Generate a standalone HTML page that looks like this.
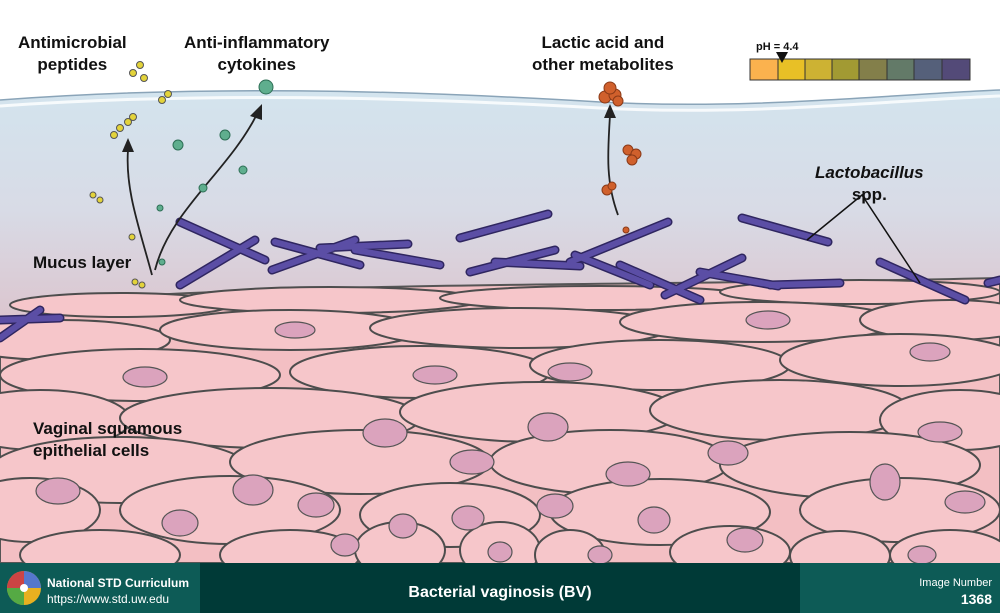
<!DOCTYPE html>
<html><head><meta charset="utf-8"><style>
body{margin:0;width:1000px;height:613px;overflow:hidden;font-family:"Liberation Sans",sans-serif;background:#fff}
.l{position:absolute;font-weight:bold;font-size:17px;color:#111;text-align:center;line-height:22px}
</style></head><body>
<svg width="1000" height="613" style="position:absolute;left:0;top:0">
<defs>
<linearGradient id="liq" x1="0" y1="0" x2="0" y2="1">
<stop offset="0" stop-color="#d3e4ee"/><stop offset="0.5" stop-color="#d8dbe6"/><stop offset="1" stop-color="#dcc3cc"/></linearGradient>
</defs>
<path d="M0,100 C200,85 400,90 600,102 C750,110 880,95 1000,90 L1000,330 L0,330Z" fill="url(#liq)"/>
<path d="M0,100 C200,85 400,90 600,102 C750,110 880,95 1000,90" fill="none" stroke="#8aa4b8" stroke-width="1.5"/>
<path d="M0,106 C200,92 400,97 600,108 C750,116 880,101 1000,96" fill="none" stroke="#fff" stroke-width="3" opacity=".8"/>
<!-- cells base -->
<path d="M0,325 C40,310 80,300 150,295 C400,282 700,285 1000,278 L1000,563 L0,563Z" fill="#f3bfc3" stroke="#555" stroke-width="2"/>
<g fill="#f6c6ca" stroke="#4d4d4d" stroke-width="2">
<ellipse cx="120" cy="305" rx="110" ry="12"/><ellipse cx="330" cy="300" rx="150" ry="13"/><ellipse cx="600" cy="298" rx="160" ry="12"/><ellipse cx="860" cy="292" rx="140" ry="12"/>
<ellipse cx="60" cy="340" rx="110" ry="20"/><ellipse cx="290" cy="330" rx="130" ry="20"/><ellipse cx="520" cy="328" rx="150" ry="20"/><ellipse cx="760" cy="322" rx="140" ry="20"/><ellipse cx="950" cy="320" rx="90" ry="20"/>
<ellipse cx="140" cy="375" rx="140" ry="26"/><ellipse cx="420" cy="372" rx="130" ry="26"/><ellipse cx="660" cy="365" rx="130" ry="25"/><ellipse cx="900" cy="360" rx="120" ry="26"/>
<ellipse cx="40" cy="420" rx="90" ry="30"/><ellipse cx="270" cy="418" rx="150" ry="30"/><ellipse cx="540" cy="412" rx="140" ry="30"/><ellipse cx="780" cy="410" rx="130" ry="30"/><ellipse cx="960" cy="420" rx="80" ry="30"/>
<ellipse cx="120" cy="470" rx="130" ry="33"/><ellipse cx="360" cy="462" rx="130" ry="32"/><ellipse cx="610" cy="462" rx="120" ry="32"/><ellipse cx="850" cy="465" rx="130" ry="33"/>
<ellipse cx="30" cy="510" rx="70" ry="32"/><ellipse cx="230" cy="510" rx="110" ry="34"/><ellipse cx="450" cy="515" rx="90" ry="32"/><ellipse cx="660" cy="512" rx="110" ry="33"/><ellipse cx="900" cy="510" rx="100" ry="32"/>
<ellipse cx="100" cy="555" rx="80" ry="25"/><ellipse cx="290" cy="555" rx="70" ry="25"/><ellipse cx="400" cy="550" rx="45" ry="28"/><ellipse cx="500" cy="550" rx="40" ry="28"/><ellipse cx="570" cy="555" rx="35" ry="25"/><ellipse cx="730" cy="552" rx="60" ry="26"/><ellipse cx="840" cy="556" rx="50" ry="25"/><ellipse cx="950" cy="555" rx="60" ry="25"/>
</g>
<g fill="#dba3bd" stroke="#555" stroke-width="1.2">
<ellipse cx="295" cy="330" rx="20" ry="8"/><ellipse cx="768" cy="320" rx="22" ry="9"/><ellipse cx="930" cy="352" rx="20" ry="9"/><ellipse cx="145" cy="377" rx="22" ry="10"/><ellipse cx="435" cy="375" rx="22" ry="9"/><ellipse cx="570" cy="372" rx="22" ry="9"/>
<ellipse cx="385" cy="433" rx="22" ry="14"/><ellipse cx="548" cy="427" rx="20" ry="14"/><ellipse cx="728" cy="453" rx="20" ry="12"/><ellipse cx="940" cy="432" rx="22" ry="10"/><ellipse cx="472" cy="462" rx="22" ry="12"/><ellipse cx="628" cy="474" rx="22" ry="12"/>
<ellipse cx="58" cy="491" rx="22" ry="13"/><ellipse cx="253" cy="490" rx="20" ry="15"/><ellipse cx="316" cy="505" rx="18" ry="12"/><ellipse cx="468" cy="518" rx="16" ry="12"/><ellipse cx="555" cy="506" rx="18" ry="12"/><ellipse cx="885" cy="482" rx="15" ry="18"/><ellipse cx="965" cy="502" rx="20" ry="11"/>
<ellipse cx="180" cy="523" rx="18" ry="13"/><ellipse cx="403" cy="526" rx="14" ry="12"/><ellipse cx="654" cy="520" rx="16" ry="13"/><ellipse cx="745" cy="540" rx="18" ry="12"/><ellipse cx="345" cy="545" rx="14" ry="11"/><ellipse cx="500" cy="552" rx="12" ry="10"/><ellipse cx="600" cy="555" rx="12" ry="9"/><ellipse cx="922" cy="555" rx="14" ry="9"/>
</g>
<!-- rods -->
<g stroke-linecap="round" fill="none">
<g stroke="#2f2660" stroke-width="9">
<path d="M180,222 L265,260 M180,285 L255,240 M275,242 L360,265 M272,270 L355,240 M320,248 L408,244 M355,250 L440,265 M460,238 L548,214 M470,272 L555,250 M495,262 L580,266 M570,262 L668,222 M575,255 L650,285 M620,265 L700,300 M665,295 L742,258 M700,272 L778,286 M742,218 L828,242 M880,262 L965,300 M770,285 L840,283 M0,320 L60,318 M0,338 L40,310 M988,283 L1000,280"/></g>
<g stroke="#5b4ea5" stroke-width="6">
<path d="M180,222 L265,260 M180,285 L255,240 M275,242 L360,265 M272,270 L355,240 M320,248 L408,244 M355,250 L440,265 M460,238 L548,214 M470,272 L555,250 M495,262 L580,266 M570,262 L668,222 M575,255 L650,285 M620,265 L700,300 M665,295 L742,258 M700,272 L778,286 M742,218 L828,242 M880,262 L965,300 M770,285 L840,283 M0,320 L60,318 M0,338 L40,310 M988,283 L1000,280"/></g>
</g>
<!-- leader lines -->
<path d="M807,240 L862,195 L920,283" fill="none" stroke="#111" stroke-width="1.5"/>
<!-- arrows -->
<g fill="none" stroke="#222" stroke-width="1.8">
<path d="M152,275 C140,230 125,190 128,150"/><path d="M155,270 C170,210 230,170 258,112"/><path d="M618,215 C605,180 608,150 610,115"/>
</g>
<g fill="#222"><path d="M128,138 L122,152 L134,152Z"/><path d="M262,104 L250,116 L262,120Z"/><path d="M610,104 L604,118 L616,118Z"/></g>
<!-- cytokines -->
<g fill="#5fae8e" stroke="#2d6e55" stroke-width="1">
<circle cx="266" cy="87" r="7"/><circle cx="225" cy="135" r="5"/><circle cx="178" cy="145" r="5"/><circle cx="243" cy="170" r="4"/><circle cx="203" cy="188" r="4"/><circle cx="160" cy="208" r="3"/><circle cx="162" cy="262" r="3"/></g>
<!-- peptides -->
<g fill="#e3d33a" stroke="#555" stroke-width="1">
<circle cx="140" cy="65" r="3.5"/><circle cx="133" cy="73" r="3.5"/><circle cx="144" cy="78" r="3.5"/><circle cx="162" cy="100" r="3.5"/><circle cx="168" cy="94" r="3.5"/><circle cx="120" cy="128" r="3.5"/><circle cx="128" cy="122" r="3.5"/><circle cx="133" cy="117" r="3.5"/><circle cx="114" cy="135" r="3.5"/><circle cx="93" cy="195" r="3"/><circle cx="100" cy="200" r="3"/><circle cx="132" cy="237" r="3"/><circle cx="135" cy="282" r="3"/><circle cx="142" cy="285" r="3"/></g>
<!-- lactic acid -->
<g fill="#d0602c" stroke="#8a3a18" stroke-width="1">
<circle cx="605" cy="97" r="6"/><circle cx="615" cy="95" r="6"/><circle cx="610" cy="88" r="6"/><circle cx="618" cy="101" r="5"/>
<circle cx="628" cy="150" r="5"/><circle cx="636" cy="154" r="5"/><circle cx="632" cy="160" r="5"/>
<circle cx="607" cy="190" r="5"/><circle cx="612" cy="186" r="4"/><circle cx="626" cy="230" r="3"/></g>
<!-- pH bar -->
<g stroke="#333" stroke-width="1">
<rect x="750" y="59" width="28" height="21" fill="#fbb24e"/><rect x="778" y="59" width="27" height="21" fill="#e8c026"/><rect x="805" y="59" width="27" height="21" fill="#cdb233"/><rect x="832" y="59" width="27" height="21" fill="#a29a33"/><rect x="859" y="59" width="28" height="21" fill="#837f4a"/><rect x="887" y="59" width="27" height="21" fill="#637a68"/><rect x="914" y="59" width="28" height="21" fill="#55607a"/><rect x="942" y="59" width="28" height="21" fill="#534a78"/></g>
<path d="M776,52 L788,52 L782,63Z" fill="#111"/>
<!-- footer -->
<rect x="0" y="563" width="200" height="50" fill="#0d5b56"/><rect x="200" y="563" width="600" height="50" fill="#003a37"/><rect x="800" y="563" width="200" height="50" fill="#0d5b56"/>
<g transform="translate(24,588)"><circle r="17" fill="#e8b020"/><path d="M0,0 L0,-17 A17,17 0 0 1 17,0Z" fill="#5577cc"/><path d="M0,0 L-17,0 A17,17 0 0 1 0,-17Z" fill="#cc4444"/><path d="M0,0 L0,17 A17,17 0 0 1 -17,0Z" fill="#55aa44"/><circle r="4" fill="#fff"/></g>
</svg>
<div class="l" style="left:18px;top:32px">Antimicrobial<br>peptides</div>
<div class="l" style="left:184px;top:32px">Anti-inflammatory<br>cytokines</div>
<div class="l" style="left:532px;top:32px">Lactic acid and<br>other metabolites</div>
<div class="l" style="left:756px;top:36px;font-size:11px">pH = 4.4</div>
<div class="l" style="left:815px;top:162px"><i>Lactobacillus</i><br>spp.</div>
<div class="l" style="left:33px;top:252px">Mucus layer</div>
<div class="l" style="left:33px;top:418px;text-align:left">Vaginal squamous<br>epithelial cells</div>
<div style="position:absolute;left:47px;top:575px;color:#fff;font-size:12px;line-height:16px"><b>National STD Curriculum</b><br>https://www.std.uw.edu</div>
<div style="position:absolute;left:200px;width:600px;top:584px;text-align:center;color:#fff;font-weight:bold;font-size:16px">Bacterial vaginosis (BV)</div>
<div style="position:absolute;right:8px;top:575px;color:#fff;font-size:11px;text-align:right;line-height:16px">Image Number<br><b style="font-size:14px">1368</b></div>
</body></html>
